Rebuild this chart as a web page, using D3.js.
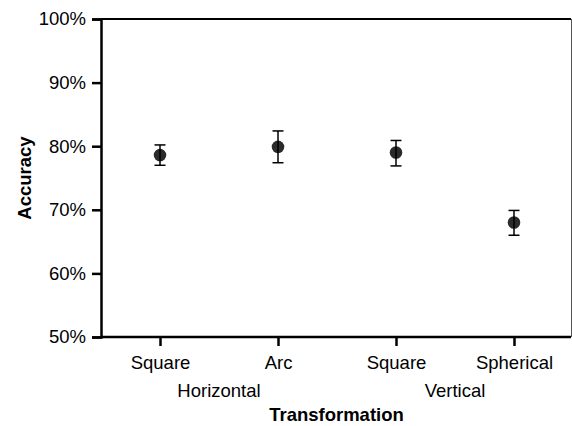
<!DOCTYPE html>
<html>
<head>
<meta charset="utf-8">
<script src="https://cdn.jsdelivr.net/npm/d3@7"></script>
<style>
  body { margin: 0; background: #fff; }
  text { font-family: "Liberation Sans", Arial, Helvetica, sans-serif; }
</style>
</head>
<body>
<div id="chart"></div>
<script>
// categories and groups along the x axis
var categories = ["Square", "Arc", "Square ", "Spherical"];
var groups = ["Horizontal", "Horizontal", "Vertical", "Vertical"];
var groupNames = ["Horizontal", "Vertical"];

// mean accuracy and error bar ends (fractions)
var means = [0.786, 0.799, 0.790, 0.680];
var lower = [0.770, 0.774, 0.769, 0.660];
var upper = [0.802, 0.824, 0.809, 0.699];

var yTicks = [0.5, 0.6, 0.7, 0.8, 0.9, 1.0];

var width = 572,
    height = 426,
    margin = {top: 19, right: 0, bottom: 89, left: 101};

var svg = d3.select("#chart")
  .append("svg")
  .attr("width", width)
  .attr("height", height);

var x = d3.scalePoint()
  .domain(categories)
  .range([margin.left, 573])
  .padding(0.5);

var y = d3.scaleLinear()
  .domain([0.5, 1.0])
  .range([height - margin.bottom, margin.top]);

var fontSize = "18.5px";

// frame: top line and right edge
svg.append("line")
  .attr("x1", margin.left).attr("x2", 571)
  .attr("y1", y(1.0)).attr("y2", y(1.0))
  .attr("stroke", "#000").attr("stroke-width", 2);
svg.append("line")
  .attr("x1", 571.5).attr("x2", 571.5)
  .attr("y1", y(1.0)).attr("y2", y(0.5))
  .attr("stroke", "#555").attr("stroke-width", 1);

// y axis
var yAxis = d3.axisLeft(y)
  .tickValues(yTicks)
  .tickFormat(d3.format(".0%"))
  .tickSize(9)
  .tickPadding(6);

var gy = svg.append("g")
  .attr("transform", "translate(" + margin.left + ",0)")
  .call(yAxis);
gy.select(".domain").attr("stroke-width", 2.5);
gy.selectAll(".tick line").attr("stroke-width", 2.5);
gy.selectAll("text").style("font-size", fontSize).attr("fill", "#000")
  .style("font-family", '"Liberation Sans", Arial, sans-serif');

// x axis
var xAxis = d3.axisBottom(x)
  .tickSize(9)
  .tickPadding(6)
  .tickSizeOuter(0);

var gx = svg.append("g")
  .attr("transform", "translate(0," + (height - margin.bottom) + ")")
  .call(xAxis);
gx.select(".domain").attr("stroke-width", 2.5)
  .attr("d", "M" + margin.left + ",0H571");
gx.selectAll(".tick line").attr("stroke-width", 2.5);
gx.selectAll("text").style("font-size", fontSize).attr("fill", "#000")
  .style("font-family", '"Liberation Sans", Arial, sans-serif')
  .attr("dy", "0.9em");

// group labels under the categories
groupNames.forEach(function(g) {
  var xs = categories.filter(function(c, i) { return groups[i] === g; }).map(x);
  svg.append("text")
    .attr("x", d3.mean(xs))
    .attr("y", 391)
    .attr("dy", "0.35em")
    .attr("text-anchor", "middle")
    .style("font-size", fontSize)
    .text(g);
});

// axis titles
svg.append("text")
  .attr("x", (margin.left + 572) / 2)
  .attr("y", 421)
  .attr("text-anchor", "middle")
  .style("font-size", fontSize)
  .style("font-weight", "bold")
  .text("Transformation");

svg.append("text")
  .attr("transform", "translate(25," + ((y(0.5) + y(1.0)) / 2) + ") rotate(-90)")
  .attr("dy", "0.35em")
  .attr("text-anchor", "middle")
  .style("font-size", fontSize)
  .style("font-weight", "bold")
  .text("Accuracy");

// points
svg.selectAll("circle.pt")
  .data(categories)
  .enter().append("circle")
  .attr("class", "pt")
  .attr("cx", function(d) { return x(d); })
  .attr("cy", function(d, i) { return y(means[i]); })
  .attr("r", 6.3)
  .attr("fill", "#2b2b2b");

// error bars drawn over the points
var capW = 5.5;
var eb = svg.selectAll("g.eb")
  .data(categories)
  .enter().append("g")
  .attr("class", "eb");
eb.append("line")
  .attr("x1", function(d) { return x(d); })
  .attr("x2", function(d) { return x(d); })
  .attr("y1", function(d, i) { return y(lower[i]); })
  .attr("y2", function(d, i) { return y(upper[i]); })
  .attr("stroke", "#000").attr("stroke-width", 1.5);
eb.append("line")
  .attr("x1", function(d) { return x(d) - capW; })
  .attr("x2", function(d) { return x(d) + capW; })
  .attr("y1", function(d, i) { return y(upper[i]); })
  .attr("y2", function(d, i) { return y(upper[i]); })
  .attr("stroke", "#000").attr("stroke-width", 1.5);
eb.append("line")
  .attr("x1", function(d) { return x(d) - capW; })
  .attr("x2", function(d) { return x(d) + capW; })
  .attr("y1", function(d, i) { return y(lower[i]); })
  .attr("y2", function(d, i) { return y(lower[i]); })
  .attr("stroke", "#000").attr("stroke-width", 1.5);
</script>
</body>
</html>
